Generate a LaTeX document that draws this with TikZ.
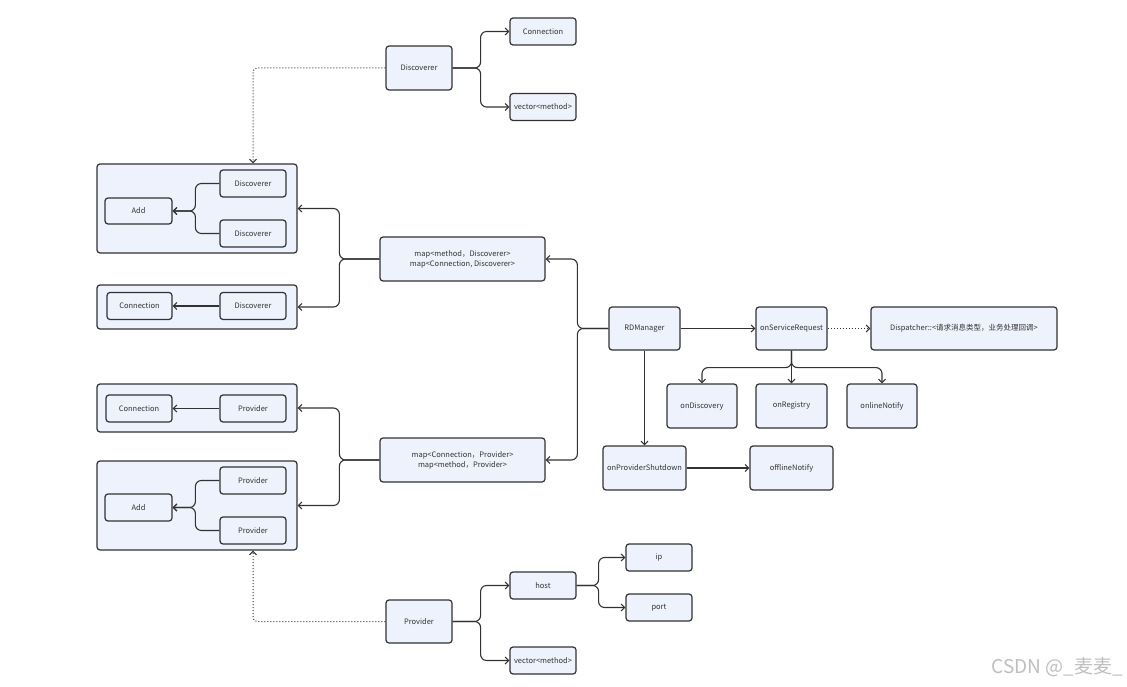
\documentclass[tikz,border=0pt]{standalone}
\usepackage{fontspec}
\newfontfamily\cjk{Noto Sans CJK SC}
\usetikzlibrary{arrows.meta}
\definecolor{boxfill}{RGB}{238,242,252}
\definecolor{boxline}{RGB}{50,50,50}
\definecolor{txt}{RGB}{51,51,51}
\definecolor{wm}{RGB}{190,190,190}
\begin{document}
\begin{tikzpicture}[x=1pt,y=-1pt,
  box/.style={draw=boxline,fill=boxfill,line width=1.2pt,rounded corners=3pt,
    inner sep=1pt,font=\cjk\fontsize{7.5}{10}\selectfont,text=txt,align=center},
  cont/.style={box},
  conn/.style={draw=boxline,line width=1.1pt,-{Straight Barb[length=3.5pt,width=7pt]}},
  fork/.style={conn,rounded corners=6pt},
  dots/.style={draw=boxline,line width=1pt,dotted,-{Straight Barb[length=3.5pt,width=7pt]}},
  dotfork/.style={dots,rounded corners=4pt}]
\useasboundingbox (0,0) rectangle (1127,687);
% containers
\node[cont,minimum width=200pt,minimum height=89pt] (cont1) at (197,208.5) {};
\node[cont,minimum width=200pt,minimum height=44pt] (cont2) at (197,307) {};
\node[cont,minimum width=200pt,minimum height=48pt] (cont3) at (197,408) {};
\node[cont,minimum width=200pt,minimum height=89pt] (cont4) at (197,505.5) {};
% top discoverer
\node[box,minimum width=66pt,minimum height=44pt] (dTop) at (419,68) {Discoverer};
\node[box,minimum width=66pt,minimum height=27pt] (dConn) at (543,31.5) {Connection};
\node[box,minimum width=66pt,minimum height=27pt] (dVec) at (543,107) {vector<method>};
% container 1
\node[box,minimum width=66pt,minimum height=27pt] (dIn1) at (253,183.5) {Discoverer};
\node[box,minimum width=66pt,minimum height=27pt] (dIn2) at (253,233.5) {Discoverer};
\node[box,minimum width=67pt,minimum height=26pt] (add1) at (138.5,211) {Add};
% container 2
\node[box,minimum width=65pt,minimum height=27pt] (conn2) at (139.5,306) {Connection};
\node[box,minimum width=66pt,minimum height=27pt] (dIn3) at (253,306) {Discoverer};
% map 1
\node[box,minimum width=165pt,minimum height=44pt] (map1) at (462.5,259) {map<method，Discoverer>\\map<Connection, Discoverer>};
% container 3
\node[box,minimum width=66pt,minimum height=27pt] (conn3) at (139,408.5) {Connection};
\node[box,minimum width=66pt,minimum height=27pt] (pIn1) at (253,408.5) {Provider};
% container 4
\node[box,minimum width=66pt,minimum height=27pt] (pIn2) at (253,480.5) {Provider};
\node[box,minimum width=66pt,minimum height=27pt] (pIn3) at (253,530.5) {Provider};
\node[box,minimum width=67pt,minimum height=27pt] (add2) at (138.5,507.5) {Add};
% map 2
\node[box,minimum width=165pt,minimum height=44pt] (map2) at (462.5,460) {map<Connection，Provider>\\map<method，Provider>};
% manager side
\node[box,minimum width=71pt,minimum height=43pt] (rdm) at (644.5,328.5) {RDManager};
\node[box,minimum width=71pt,minimum height=43pt] (osr) at (791.5,328.5) {onServiceRequest};
\node[box,minimum width=186pt,minimum height=43pt] (disp) at (964,328.5) {Dispatcher::<请求消息类型，业务处理回调>};
\node[box,minimum width=70pt,minimum height=44pt] (onDisc) at (702,406) {onDiscovery};
\node[box,minimum width=71pt,minimum height=44pt] (onReg) at (791.5,406) {onRegistry};
\node[box,minimum width=70pt,minimum height=44pt] (onlN) at (882,406) {onlineNotify};
\node[box,minimum width=83pt,minimum height=44pt] (ops) at (644.5,468) {onProviderShutdown};
\node[box,minimum width=83pt,minimum height=44pt] (offN) at (791.5,468) {offlineNotify};
% bottom provider
\node[box,minimum width=66pt,minimum height=43pt] (pBot) at (419,621.5) {Provider};
\node[box,minimum width=66pt,minimum height=27pt] (host) at (543,585.5) {host};
\node[box,minimum width=66pt,minimum height=27pt] (pVec) at (543,660.5) {vector<method>};
\node[box,minimum width=66pt,minimum height=27pt] (ip) at (659,557.5) {ip};
\node[box,minimum width=66pt,minimum height=27pt] (port) at (659,607.5) {port};
% watermark
\node[font=\cjk\fontsize{19}{22}\selectfont,text=wm,anchor=east,inner sep=0pt] (wmk) at (1123,667) {CSDN @\_麦麦\_};
% connectors
\draw[fork] (dTop.east) -- ++(28,0) |- (dConn.west);
\draw[fork] (dTop.east) -- ++(28,0) |- (dVec.west);
\draw[dotfork] (dTop.west) -| (dIn1.center |- cont1.north);
\draw[fork] (dIn1.west) -- ++(-24,0) |- (add1.east);
\draw[fork] (dIn2.west) -- ++(-24,0) |- (add1.east);
\draw[conn] (dIn3.west) -- (conn2.east);
\draw[fork] (map1.west) -- ++(-40,0) |- (cont1.east);
\draw[fork] (map1.west) -- ++(-40,0) |- (cont2.east);
\draw[conn] (pIn1.west) -- (conn3.east);
\draw[fork] (pIn2.west) -- ++(-24,0) |- (add2.east);
\draw[fork] (pIn3.west) -- ++(-24,0) |- (add2.east);
\draw[fork] (map2.west) -- ++(-40,0) |- (cont3.east);
\draw[fork] (map2.west) -- ++(-40,0) |- (cont4.east);
\draw[fork] (rdm.west) -- ++(-31,0) |- (map1.east);
\draw[fork] (rdm.west) -- ++(-31,0) |- (map2.east);
\draw[conn] (rdm.east) -- (osr.west);
\draw[dots] (osr.east) -- (disp.west);
\draw[fork] (osr.south) -- ++(0,17) -| (onDisc.north);
\draw[conn] (osr.south) -- (onReg.north);
\draw[fork] (osr.south) -- ++(0,17) -| (onlN.north);
\draw[conn] (rdm.south) -- (ops.north);
\draw[conn] (ops.east) -- (offN.west);
\draw[dotfork] (pBot.west) -| (pIn3.center |- cont4.south);
\draw[fork] (pBot.east) -- ++(28,0) |- (host.west);
\draw[fork] (pBot.east) -- ++(28,0) |- (pVec.west);
\draw[fork] (host.east) -- ++(22,0) |- (ip.west);
\draw[fork] (host.east) -- ++(22,0) |- (port.west);
\end{tikzpicture}
\end{document}
